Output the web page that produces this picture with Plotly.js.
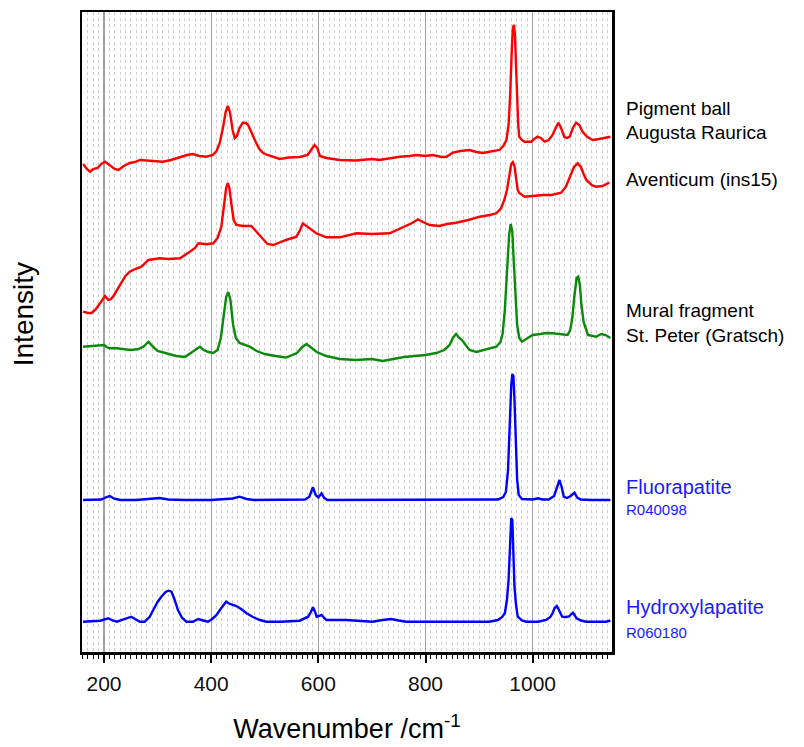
<!DOCTYPE html>
<html>
<head>
<meta charset="utf-8">
<script src="https://cdn.plot.ly/plotly-3.0.1.min.js"></script>
<style>html,body{margin:0;padding:0;background:#fff;}#chart{width:804px;height:747px;}</style>
</head>
<body>
<div id="chart"></div>
<script>
// Pigment ball, Augusta Raurica (red, top)
const pigWn = [161,168,174,180,188,195,202,210,220,227,237,248,258,267,285,310,325,342,355,366,378,391,403,410,416,422,427,431,435,440,444,448,453,459,465,469,476,484,490,497,505,515,528,545,565,580,588,593,598,603,615,640,670,700,714,735,752,770,783,800,813,830,839,851,865,882,895,907,925,938,945,951,955,958,961,963,965,967,969,971,973,975,980,985,997,1003,1009,1015,1022,1030,1037,1043,1048,1053,1059,1064,1069,1075,1081,1087,1093,1102,1112,1124,1135,1145];
const pigInt = [488,483,480.3,483,484,488,490.3,487,483,482,486,489,490,492,491,490.3,492,495,497,498,496,495.3,497,501,509,524,540,546,540,522,514,516,524,529.3,529,527,518,509,503,499,497,495,493,494.5,495,497,503,507,504,496,494,492,491.5,493,492,494,495.3,496,497,496,497,495,495.3,499.3,501,502,500,499,501,502,506,512,527,557,602,624,627,617,585.3,552,527,515.3,512,510.3,510.3,513,515.3,514,510.3,512,517,524,529.3,524,515,514,515.3,524,529.3,527,520.3,515,512,513,514,515.3];

// Aventicum (ins15) (red)
const aveWn = [161,170,177,185,193,202,208,212,217,225,233,240,248,258,270,283,295,304,320,342,360,370,376,391,404,412,419,424,428,431,434,438,442,447,460,475,485,497,505,516,530,540,559,566,571,580,596,615,640,671,700,733,760,775,786,795,808,826,840,857,880,901,920,932,941,947,952,956,960,963,966,969,972,975,985,1000,1019,1035,1045,1053,1062,1070,1077,1084,1090,1095,1100,1110,1118,1130,1143];
const aveInt = [340.3,339,339,343,349,356,352,352.5,355.3,363,370.3,376,380.3,383,385.3,392,393,393.7,393,393.7,400.3,404,408.7,407.7,408.7,414,425.3,447,464,469,464,447,432,427,426,426,420,412,408,407,410,412,415.3,422,428.7,425,418.7,414.7,414.7,418.7,418,418.7,425,429,432.7,430,427,426,428,429.3,432,435.3,437,438.7,443.7,452,462,477,488,490,486,474,462,459,455.3,456,457,457,458,459.3,465.3,476,485,488.7,485,478,472,467,465.3,466,469.3];

// Mural fragment St. Peter (Gratsch) (green)
const murWn = [161,175,190,200,205,210,220,235,250,265,275,283,290,300,315,335,351,365,372,379,386,395,404,412,418,423,428,432,436,441,446,453,462,472,485,500,520,540,560,570,578,585,597,615,640,670,700,720,740,760,780,800,820,835,845,851,857,863,868,875,882,895,910,920,932,940,944,948,952,956,959,962,965,968,971,975,980,990,1000,1015,1025,1037,1050,1060,1065,1070,1074,1078,1082,1085,1088,1091,1095,1103,1118,1128,1136,1145];
const murInt = [305.3,306,307,307,305,303.7,304,303,302,303,306,310.3,306,301,299,296,295,300,303,305.3,302,300,299,302,314,337,355,360,352,327,314,309,307,305.3,301,298,296,294.5,299,305,308,305,300,296,293,292,293,291,293,295,296,297,299,302,307,314,318,314,312,307,302,300,302,304,305.3,310,318.7,342,382,417,428,420,387,352,327,314,310.3,313.7,317,318,319,318.7,318,318,317,322,334,357,374,375.3,367,347,330,317,315.3,318,317,314];

// Fluorapatite R040098 (blue)
const fluWn = [161,195,205,211,218,230,260,290,304,320,350,400,440,453,466,480,540,575,583,590,595,600,606,611,617,700,800,900,935,945,950,954,957,960,962,964,966,968,971,974,980,1000,1010,1018,1030,1040,1046,1050,1054,1058,1064,1071,1078,1083,1090,1110,1145];
const fluInt = [152,152.5,155,156,153.5,152,152,153,154,152.5,152,152,153.5,155.3,153,152,152,152.5,155,164.7,157,154.5,158.7,154,152,152,152,152,152.5,155,160,182,232,267,278,276,252,212,172,157,153,152.5,153.7,152.5,152.5,156,165,172,165,155.3,154,156,159.3,154.5,152.5,152,152];

// Hydroxylapatite R060180 (blue)
const hydWn = [161,193,208,216,224,240,251,258,267,276,285,292,300,307,315,320,326,332,338,346,354,366,376,385,394,402,410,419,428,435,447,456,466,478,491,503,530,565,581,586,590,594,597,601,606,611,615,640,652,680,701,720,736,750,764,800,850,919,935,943,948,952,955,957,960,962,964,966,969,972,980,988,1010,1025,1033,1037,1041,1045,1049,1055,1062,1068,1072,1075,1078,1082,1090,1100,1137,1145];
const hydInt = [30.3,31.3,33.7,31.5,30.3,33,35.3,33,30.3,30.3,35,42,50,55.3,60,61.3,60.3,52,42,34,30.3,30.3,33,31.5,30.3,33,37,44,50.3,48,46,43,38.7,35,32,30.3,30.3,31.3,35.3,40,44.7,40,35.3,36,37,34,32,32,32,31,30.3,32,33,31.5,30.3,30.3,30.3,30.3,32,35,38.7,52,72,102,134,132,102,65.3,47,35.3,31.5,30.3,30.3,32,35,38.7,44,46,42,35.3,35,35.5,38,39.3,37,33.7,31.5,30.3,30.3,31.5];

const xTicks = [200,400,600,800,1000];
const labelsBlack = [
  {text:'Pigment ball', y:0.850},
  {text:'Augusta Raurica', y:0.8125},
  {text:'Aventicum (ins15)', y:0.7375},
  {text:'Mural fragment', y:0.533},
  {text:'St. Peter (Gratsch)', y:0.494}
];
const labelsBlue = [
  {text:'Fluorapatite', y:0.258, size:20},
  {text:'R040098', y:0.222, size:15},
  {text:'Hydroxylapatite', y:0.0703, size:20},
  {text:'R060180', y:0.03125, size:15}
];

const RED = '#ff0000', GREEN = '#0a8a0a', BLUE = '#0000ff';
const FONT = 'Arial, "Liberation Sans", sans-serif';

function tr(x, y, c){
  return {x:x, y:y, type:'scatter', mode:'lines', line:{color:c, width:2.4}, hoverinfo:'skip', showlegend:false};
}
const data = [
  tr(pigWn, pigInt, RED),
  tr(aveWn, aveInt, RED),
  tr(murWn, murInt, GREEN),
  tr(fluWn, fluInt, BLUE),
  tr(hydWn, hydInt, BLUE)
];

const annotations = [];
labelsBlack.forEach(l => annotations.push({xref:'paper', yref:'paper', x:1.022, y:l.y, xanchor:'left', yanchor:'middle', text:l.text, showarrow:false, font:{family:FONT, size:19, color:'#000'}}));
labelsBlue.forEach(l => annotations.push({xref:'paper', yref:'paper', x:1.022, y:l.y, xanchor:'left', yanchor:'middle', text:l.text, showarrow:false, font:{family:FONT, size:l.size, color:'#1a1aff'}}));
annotations.push({xref:'paper', yref:'paper', x:-0.111, y:0.528, xanchor:'center', yanchor:'middle', text:'Intensity', textangle:-90, showarrow:false, font:{family:FONT, size:28, color:'#000'}});

const layout = {
  width:804, height:747,
  margin:{l:82, r:192, t:12, b:95},
  paper_bgcolor:'#fff', plot_bgcolor:'#fff',
  font:{family:FONT, color:'#000'},
  showlegend:false,
  xaxis:{
    range:[159,1148],
    tickvals:xTicks, ticktext:xTicks.map(String),
    ticks:'outside', ticklen:8, tickwidth:2, tickcolor:'#000',
    ticklabelstandoff:3,
    tickfont:{family:FONT, size:21, color:'#111'},
    showline:true, linecolor:'#000', linewidth:2.5, mirror:true,
    showgrid:true, gridcolor:'#a0a0a0', gridwidth:1.2,
    zeroline:false,
    minor:{dtick:10, tick0:0, ticks:'outside', ticklen:4, tickwidth:1, tickcolor:'#000', showgrid:true, gridcolor:'#cfcfcf', gridwidth:1, griddash:'dot'},
    title:{text:'Wavenumber /cm<sup>-1</sup>', font:{family:FONT, size:27, color:'#000'}, standoff:26}
  },
  yaxis:{
    range:[0,640],
    showticklabels:false, ticks:'',
    showline:true, linecolor:'#000', linewidth:2.5, mirror:true,
    showgrid:false, zeroline:false
  },
  annotations:annotations
};

Plotly.newPlot('chart', data, layout, {staticPlot:true, displayModeBar:false});
</script>
</body>
</html>
